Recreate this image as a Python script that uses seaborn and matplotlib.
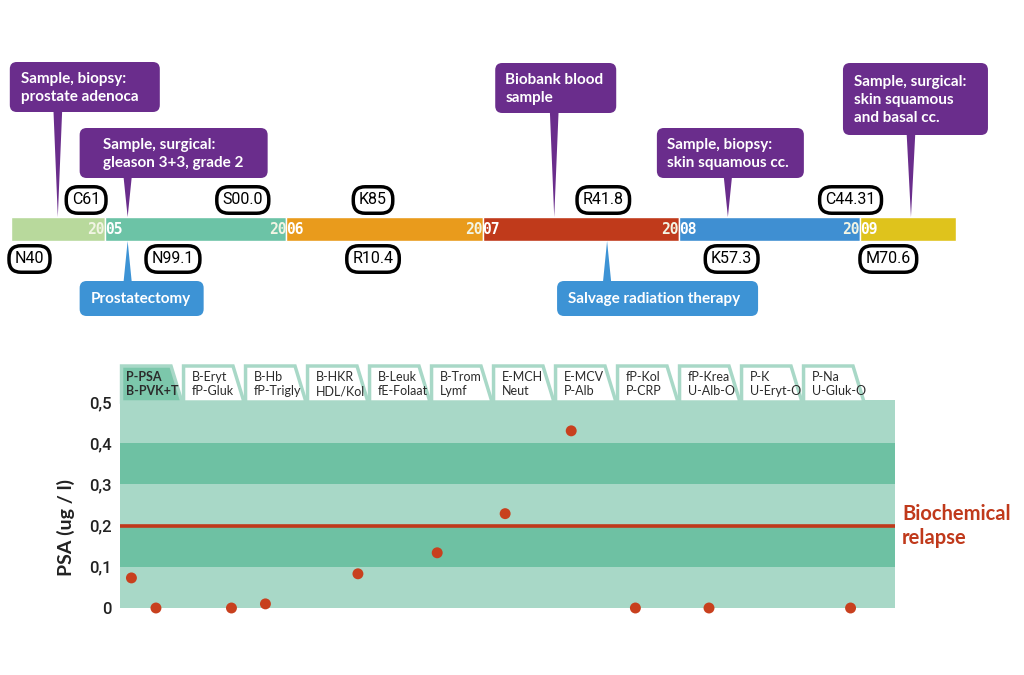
import numpy as np
import pandas as pd
import seaborn as sns
import matplotlib.pyplot as plt
import matplotlib.transforms as mtransforms
from matplotlib.patches import Polygon, Rectangle, FancyBboxPatch

sns.set_theme(style='white')
plt.rcParams['font.family'] = ['Lato', 'DejaVu Sans']

# timeline periods (years)
seg_edges = [2004.50, 2005.00, 2005.96, 2007.00, 2008.04, 2009.00, 2009.51]
seg_colors = ['#b8d99c', '#6cc3a6', '#e99b1c', '#c03a1b', '#3f8fd2', '#dfc31c']
year_labels = ['2005', '2006', '2007', '2008', '2009']

# diagnosis codes
codes_above = ['C61', 'S00.0', 'K85', 'R41.8', 'C44.31']
codes_above_t = [2004.90, 2005.73, 2006.42, 2007.64, 2008.95]
codes_below = ['N40', 'N99.1', 'R10.4', 'K57.3', 'M70.6']
codes_below_t = [2004.60, 2005.36, 2006.42, 2008.32, 2009.15]

# samples (purple) and treatments (blue)
sample_text = ['Sample, biopsy:\nprostate adenoca',
               'Sample, surgical:\ngleason 3+3, grade 2',
               'Biobank blood\nsample',
               'Sample, biopsy:\nskin squamous cc.',
               'Sample, surgical:\nskin squamous\nand basal cc.']
sample_t = [2004.75, 2005.12, 2007.38, 2008.30, 2009.27]
treat_text = ['Prostatectomy', 'Salvage radiation therapy']
treat_t = [2005.12, 2007.66]

# callout box layout in pixels: left offset from pointer, width, top, height, text inset
sample_box = [(-48, 150, 62, 50, 11), (-48, 188, 128, 50, 23), (-59, 121, 63, 50, 10),
              (-71, 147, 128, 50, 10), (-68, 145, 63, 72, 11)]
treat_box = [(-48, 124, 281, 35, 11), (-50, 201, 281, 35, 11)]

# PSA measurements
psa_t = [2005.14, 2005.27, 2005.67, 2005.85, 2006.34, 2006.76, 2007.12,
         2007.47, 2007.81, 2008.20, 2008.95]
psa = [0.073, 0.0, 0.0, 0.01, 0.083, 0.134, 0.229, 0.43, 0.0, 0.0, 0.0]
relapse = 0.2

tab_top = ['P-PSA', 'B-Eryt', 'B-Hb', 'B-HKR', 'B-Leuk', 'B-Trom', 'E-MCH',
           'E-MCV', 'fP-Kol', 'fP-Krea', 'P-K', 'P-Na']
tab_bot = ['B-PVK+T', 'fP-Gluk', 'fP-Trigly', 'HDL/Kol', 'fE-Folaat', 'Lymf',
           'Neut', 'P-Alb', 'P-CRP', 'U-Alb-O', 'U-Eryt-O', 'U-Gluk-O']

purple = '#6a2d8c'
blue = '#3d93d5'
red = '#c0391b'
light = '#a8d8c7'
dark = '#6ec1a3'

PPY = 188.75  # pixels per year
X0 = 2005 - 105 / PPY

fig = plt.figure(figsize=(10.24, 6.75), dpi=100)

# ---- timeline ----
ax = fig.add_axes([0, 1 - 340 / 675, 1, 340 / 675])
ax.set_xlim(X0, X0 + 1024 / PPY)
ax.set_ylim(340, 0)
ax.axis('off')

left = seg_edges[:-1]
widths = np.diff(seg_edges)
ax.barh(229, widths, left=left, height=24, color=seg_colors, zorder=2)

for e, yl in zip(seg_edges[1:-1], year_labels):
    ax.text(e, 230, yl[:2], ha='right', va='center', color='#f2f5e4', fontsize=10.5,
            family='DejaVu Sans Mono', fontweight='bold', zorder=3)
    ax.text(e, 230, yl[2:], ha='left', va='center', color='white', fontsize=10.5,
            family='DejaVu Sans Mono', fontweight='bold', zorder=3)

code_box = dict(boxstyle='round,pad=0.36,rounding_size=0.75', fc='white', ec='black', lw=2.5)
for c, t in zip(codes_above, codes_above_t):
    ax.text(t, 200, c, ha='center', va='center', fontsize=11.5, family='Roboto',
            color='black', bbox=code_box, zorder=4)
for c, t in zip(codes_below, codes_below_t):
    ax.text(t, 259, c, ha='center', va='center', fontsize=11.5, family='Roboto',
            color='black', bbox=code_box, zorder=4)


def callout(t, txt, box, color, tip_y):
    dx, bw, top, bh, inset = box
    w = 4.5 / PPY
    if tip_y > top:
        ax.fill([t - w, t + w, t], [top + bh - 5, top + bh - 5, tip_y], color=color, lw=0, zorder=3)
    else:
        ax.fill([t - w, t + w, t], [top + 5, top + 5, tip_y], color=color, lw=0, zorder=3)
    ax.add_patch(FancyBboxPatch((t + dx / PPY, top), bw / PPY, bh,
                                boxstyle=f'round,pad=0,rounding_size={7 / PPY}',
                                mutation_aspect=PPY, fc=color, ec='none', zorder=4))
    ax.text(t + (dx + inset) / PPY, top + bh / 2 + 1, txt, ha='left', va='center',
            fontsize=11, fontweight='bold', color='white', linespacing=1.4, zorder=5)


for txt, t, box in zip(sample_text, sample_t, sample_box):
    callout(t, txt, box, purple, 217)
for txt, t, box in zip(treat_text, treat_t, treat_box):
    callout(t, txt, box, blue, 241)

# ---- PSA chart ----
axb = fig.add_axes([120 / 1024, 67 / 675, 775 / 1024, 206 / 675])
axb.set_xlim(2005 + 15 / PPY, 2005 + 790 / PPY)
axb.set_ylim(0, 0.5)
for i in range(5):
    axb.axhspan(i * 0.1, (i + 1) * 0.1, color=light if i % 2 == 0 else dark, lw=0, zorder=0)
axb.axhline(relapse, color=red, lw=2.6, zorder=2)

df = pd.DataFrame({'t': psa_t, 'psa': psa})
sns.scatterplot(data=df, x='t', y='psa', ax=axb, color='#c8401e', s=62,
                edgecolor='none', zorder=3, clip_on=False)

for s in axb.spines.values():
    s.set_visible(False)
axb.set_xticks([])
axb.set_xlabel('')
yt = np.round(np.arange(0, 0.51, 0.1), 1)
axb.set_yticks(yt)
axb.set_yticklabels(['0' if v == 0 else f'{v:.1f}'.replace('.', ',') for v in yt],
                    family='Roboto', fontsize=12, fontweight='medium', color='#222222')
axb.tick_params(axis='y', length=0, pad=6)
axb.set_ylabel('PSA (ug / l)', fontsize=14, fontweight='bold', color='#222222')
axb.yaxis.set_label_coords(-0.058, 0.39)

trans = mtransforms.blended_transform_factory(axb.transAxes, axb.transData)
axb.text(1.009, relapse, 'Biochemical\nrelapse', transform=trans, ha='left', va='center',
         fontsize=14.5, fontweight='bold', color=red, linespacing=1.25)

# tabs
tw = 62 / 775
sl = 11 / 775
th = 36 / 206
axb.add_patch(Rectangle((0, 0.99), 1, 0.02, transform=axb.transAxes, color=light,
                        lw=0, clip_on=False, zorder=1))
for i, (a, b) in enumerate(zip(tab_top, tab_bot)):
    x0 = i * tw
    fc = '#7cc7ab' if i == 0 else 'white'
    poly = Polygon([(x0 + 0.002, 1.0), (x0 + 0.002, 1 + th), (x0 + tw - sl, 1 + th), (x0 + tw, 1.0)],
                   closed=True, transform=axb.transAxes, fc=fc, ec=light, lw=2.5,
                   clip_on=False, zorder=2)
    axb.add_patch(poly)
    off = 6 if i == 0 else 10
    axb.text(x0 + off / 775, 1 + th / 2, a + '\n' + b, transform=axb.transAxes,
             ha='left', va='center', fontsize=9, color='#2b2b2b', linespacing=1.25,
             fontweight='bold' if i == 0 else 'normal', zorder=3)

fig.savefig('out.png', dpi=100)
